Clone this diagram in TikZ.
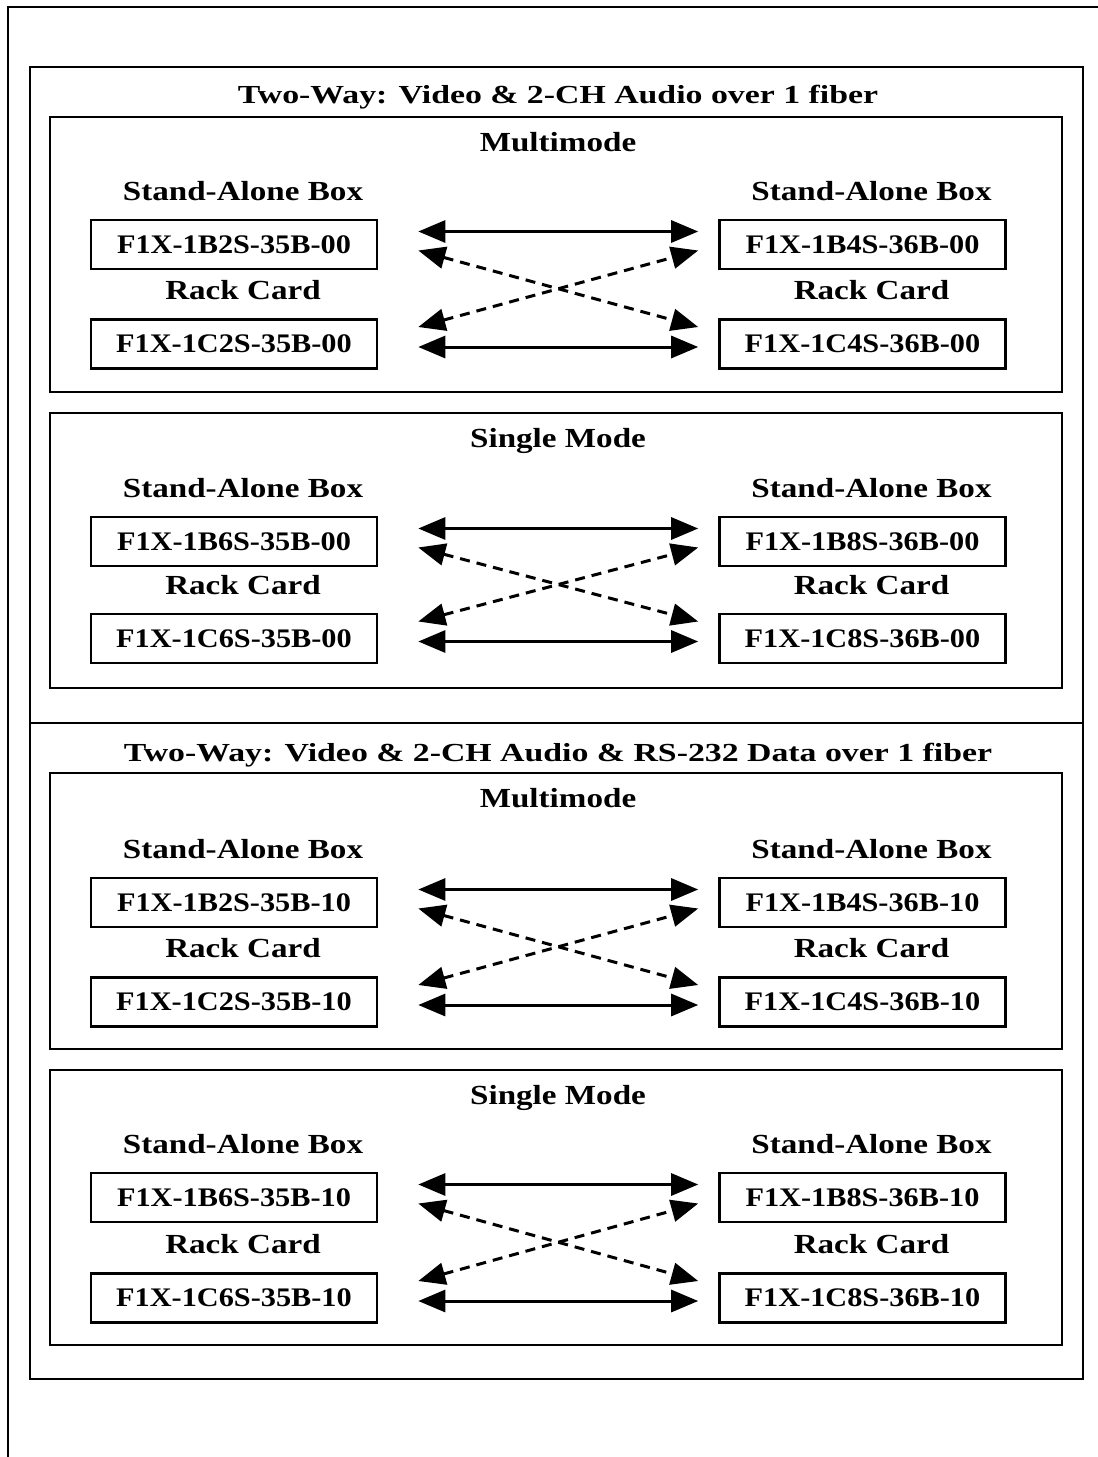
\documentclass[tikz,border=0pt]{standalone}
\usepackage{fontspec}
\setmainfont{Liberation Serif}
\newfontfamily\titlefont[FakeStretch=1.3]{Liberation Serif}
\newfontfamily\labelfont[FakeStretch=1.2]{Liberation Serif}
\newfontfamily\partfont[FakeStretch=1.13]{Liberation Serif}
\usetikzlibrary{positioning,calc,arrows.meta}
\tikzset{
  part/.style={draw, line width=1.3pt, minimum width=143pt, minimum height=24.5pt,
    inner sep=0pt, font=\partfont\bfseries\fontsize{13.4}{15}\selectfont},
  lbl/.style={inner sep=0pt, font=\labelfont\bfseries\fontsize{13.8}{16}\selectfont},
  ttl/.style={anchor=base, inner sep=0pt, font=\titlefont\bfseries\fontsize{13}{15}\selectfont},
  frame/.style={draw, line width=1.1pt},
  both/.style={{Triangle[length=13.5pt,width=11pt]}-{Triangle[length=13.5pt,width=11pt]}, line width=1.5pt},
  cross/.style={both, dash pattern=on 5pt off 3.5pt}
}
\begin{document}
\begin{tikzpicture}[x=0.5pt, y=-0.5pt, node distance=9pt]
\useasboundingbox (0,0) rectangle (1098,1457);
\draw[line width=0.7pt] (1098,7) -- (8,7) -- (8,1457);
\draw[line width=1.4pt] (30,67) rectangle (1083,1379);
\draw[line width=1.3pt] (30,723) -- (1083,723);

% first half
\node[ttl] (t_1) at (558,103) {Two-Way: Video \& 2-CH Audio over 1 fiber};
\draw[frame] (50,117) rectangle (1062,392);
\node[lbl,anchor=base] (h_1) at (558,151) {Multimode};
\node[part] (a_1) at (234,244.5) {F1X-1B2S-35B-00};
\node[part] (b_1) at (862.5,244.5) {F1X-1B4S-36B-00};
\node[part] (c_1) at (234,344) {F1X-1C2S-35B-00};
\node[part] (d_1) at (862.5,344) {F1X-1C4S-36B-00};
\node[lbl,xshift=4.5pt] [above=of a_1] {Stand-Alone Box};
\node[lbl,xshift=4.5pt] [above=of b_1] {Stand-Alone Box};
\node[lbl,xshift=4.5pt] [above=of c_1] {Rack Card};
\node[lbl,xshift=4.5pt] [above=of d_1] {Rack Card};
\draw[both] ($(a_1.east)+(40,-13)$) -- ($(b_1.west)+(-20,-13)$);
\draw[both] ($(c_1.east)+(40,3)$) -- ($(d_1.west)+(-20,3)$);
\draw[cross] ($(a_1.east)+(40,6)$) -- ($(d_1.west)+(-20,-17)$);
\draw[cross] ($(c_1.east)+(40,-17)$) -- ($(b_1.west)+(-20,6)$);

\draw[frame] (50,413) rectangle (1062,688);
\node[lbl,anchor=base] (h_2) at (558,447) {Single Mode};
\node[part] (a_2) at (234,541.5) {F1X-1B6S-35B-00};
\node[part] (b_2) at (862.5,541.5) {F1X-1B8S-36B-00};
\node[part] (c_2) at (234,638.5) {F1X-1C6S-35B-00};
\node[part] (d_2) at (862.5,638.5) {F1X-1C8S-36B-00};
\node[lbl,xshift=4.5pt] [above=of a_2] {Stand-Alone Box};
\node[lbl,xshift=4.5pt] [above=of b_2] {Stand-Alone Box};
\node[lbl,xshift=4.5pt] [above=of c_2] {Rack Card};
\node[lbl,xshift=4.5pt] [above=of d_2] {Rack Card};
\draw[both] ($(a_2.east)+(40,-13)$) -- ($(b_2.west)+(-20,-13)$);
\draw[both] ($(c_2.east)+(40,3)$) -- ($(d_2.west)+(-20,3)$);
\draw[cross] ($(a_2.east)+(40,6)$) -- ($(d_2.west)+(-20,-17)$);
\draw[cross] ($(c_2.east)+(40,-17)$) -- ($(b_2.west)+(-20,6)$);

% second half
\node[ttl] (t_2) at (558,761) {Two-Way: Video \& 2-CH Audio \& RS-232 Data over 1 fiber};
\draw[frame] (50,773) rectangle (1062,1049);
\node[lbl,anchor=base] (h_3) at (558,807) {Multimode};
\node[part] (a_3) at (234,902.5) {F1X-1B2S-35B-10};
\node[part] (b_3) at (862.5,902.5) {F1X-1B4S-36B-10};
\node[part] (c_3) at (234,1002) {F1X-1C2S-35B-10};
\node[part] (d_3) at (862.5,1002) {F1X-1C4S-36B-10};
\node[lbl,xshift=4.5pt] [above=of a_3] {Stand-Alone Box};
\node[lbl,xshift=4.5pt] [above=of b_3] {Stand-Alone Box};
\node[lbl,xshift=4.5pt] [above=of c_3] {Rack Card};
\node[lbl,xshift=4.5pt] [above=of d_3] {Rack Card};
\draw[both] ($(a_3.east)+(40,-13)$) -- ($(b_3.west)+(-20,-13)$);
\draw[both] ($(c_3.east)+(40,3)$) -- ($(d_3.west)+(-20,3)$);
\draw[cross] ($(a_3.east)+(40,6)$) -- ($(d_3.west)+(-20,-17)$);
\draw[cross] ($(c_3.east)+(40,-17)$) -- ($(b_3.west)+(-20,6)$);

\draw[frame] (50,1070) rectangle (1062,1345);
\node[lbl,anchor=base] (h_4) at (558,1104) {Single Mode};
\node[part] (a_4) at (234,1197.5) {F1X-1B6S-35B-10};
\node[part] (b_4) at (862.5,1197.5) {F1X-1B8S-36B-10};
\node[part] (c_4) at (234,1298) {F1X-1C6S-35B-10};
\node[part] (d_4) at (862.5,1298) {F1X-1C8S-36B-10};
\node[lbl,xshift=4.5pt] [above=of a_4] {Stand-Alone Box};
\node[lbl,xshift=4.5pt] [above=of b_4] {Stand-Alone Box};
\node[lbl,xshift=4.5pt] [above=of c_4] {Rack Card};
\node[lbl,xshift=4.5pt] [above=of d_4] {Rack Card};
\draw[both] ($(a_4.east)+(40,-13)$) -- ($(b_4.west)+(-20,-13)$);
\draw[both] ($(c_4.east)+(40,3)$) -- ($(d_4.west)+(-20,3)$);
\draw[cross] ($(a_4.east)+(40,6)$) -- ($(d_4.west)+(-20,-17)$);
\draw[cross] ($(c_4.east)+(40,-17)$) -- ($(b_4.west)+(-20,6)$);
\end{tikzpicture}
\end{document}
